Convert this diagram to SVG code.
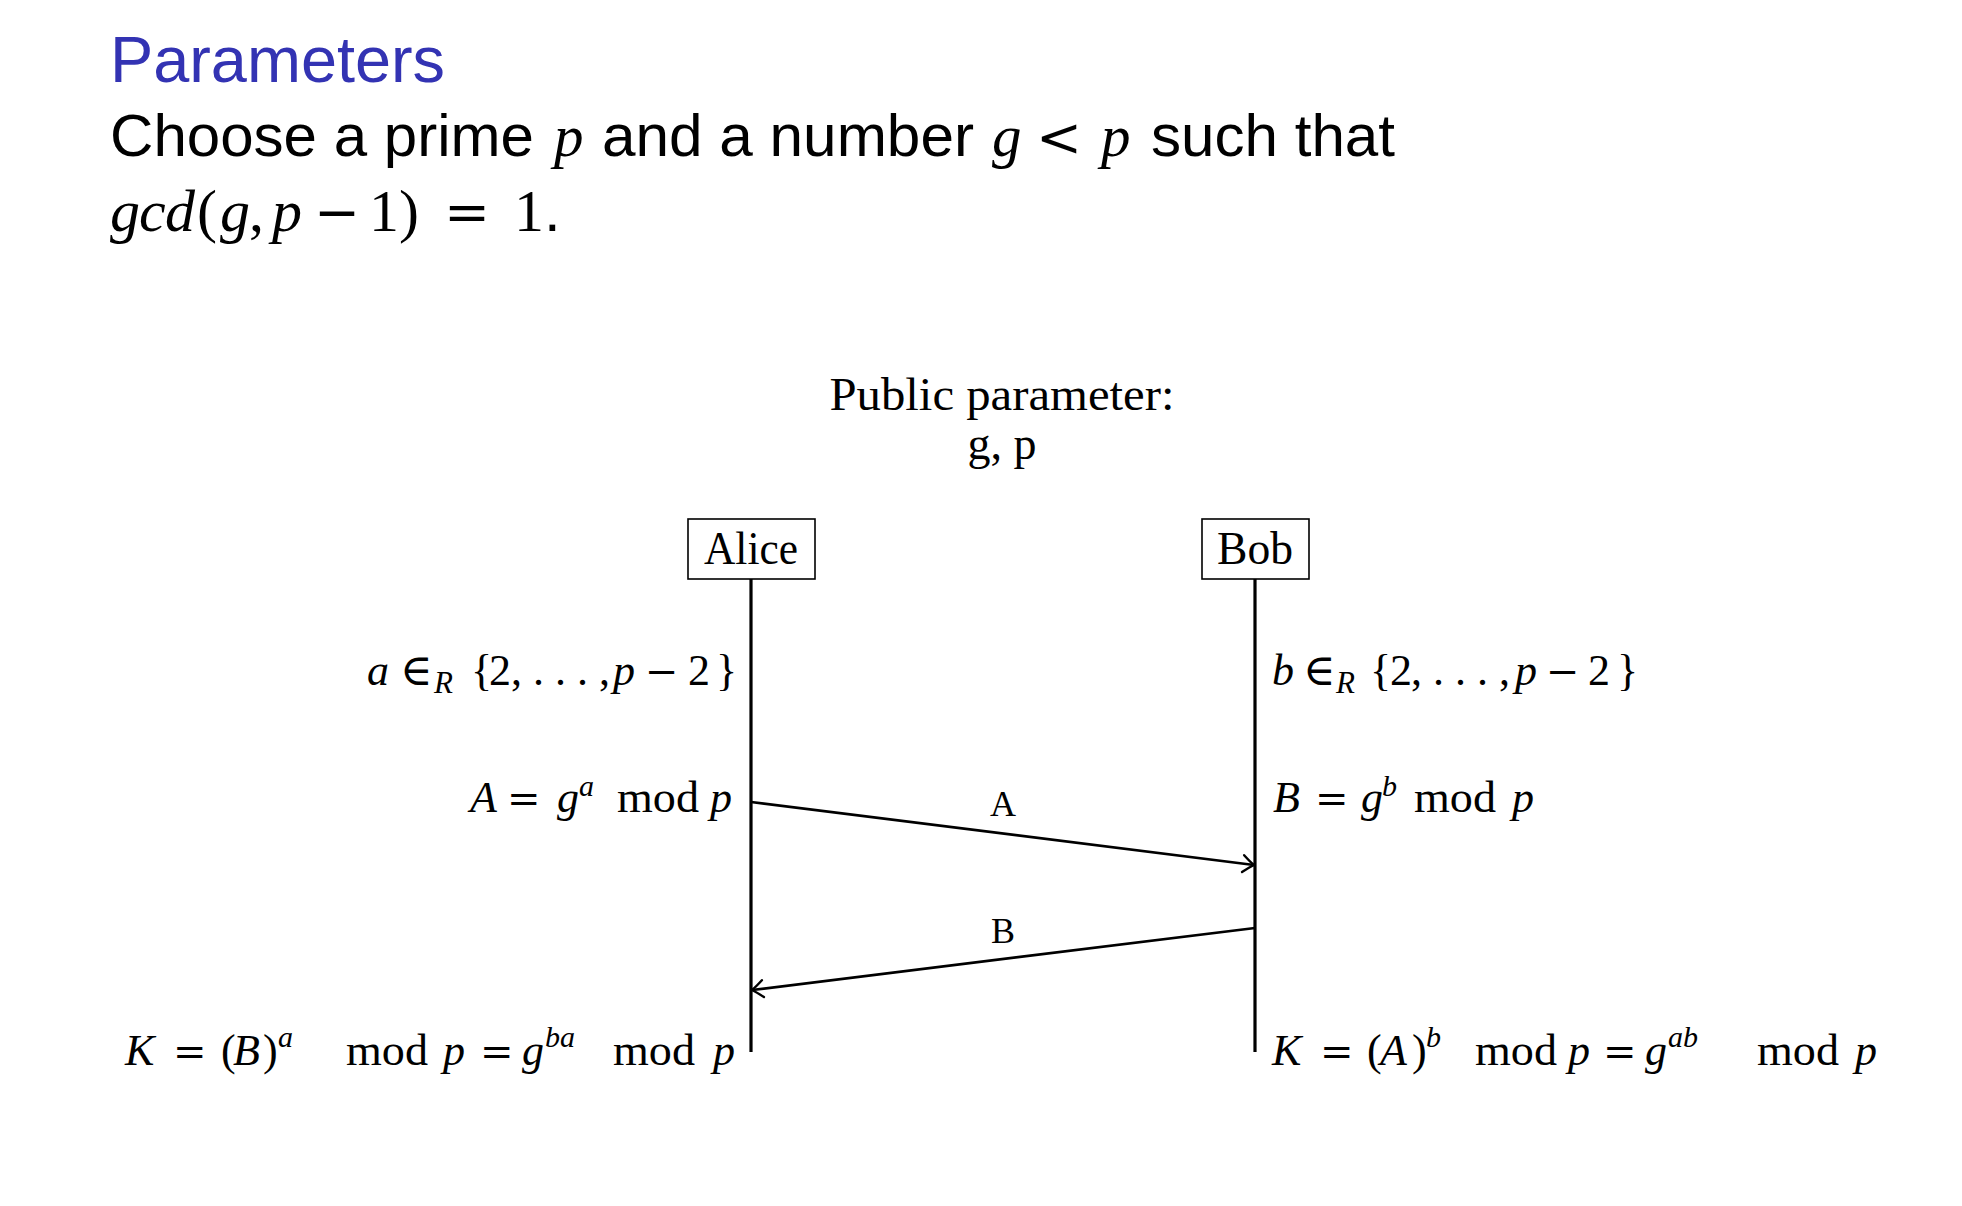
<svg xmlns="http://www.w3.org/2000/svg" width="1962" height="1206" viewBox="0 0 1962 1206">
<style>
.sans{font-family:"Liberation Sans","Helvetica",Arial,sans-serif;fill:#000}
.title{font-family:"Liberation Sans","Helvetica",Arial,sans-serif;fill:#3333B3;font-size:65px}
.rm{font-family:"Liberation Serif","DejaVu Serif",serif;fill:#000}
.it{font-style:italic}
.op{font-family:"DejaVu Serif",serif;font-style:normal;font-size:40px}
.opL{font-family:"DejaVu Serif",serif;font-style:normal;font-size:55px}
.m{font-size:44px}
.sup{font-size:30px;font-style:italic}
.sub{font-size:31px;font-style:italic}
.box{fill:#fff;stroke:#000;stroke-width:1.6}
.life{stroke:#000;stroke-width:3.2;fill:none}
.msg{stroke:#000;stroke-width:2.7;fill:none}
</style>
<defs>
<marker id="to" viewBox="-14 -10 16 20" markerWidth="16" markerHeight="20" refX="0" refY="0" orient="auto" markerUnits="userSpaceOnUse">
<path d="M -11,-8.5 Q -4,-2.5 0,0 Q -4,2.5 -11,8.5" fill="none" stroke="#000" stroke-width="2.4" stroke-linecap="round"/>
</marker>
</defs>
<rect width="1962" height="1206" fill="#fff"/>

<g id="heading">
<text class="title" x="110" y="82" textLength="335" lengthAdjust="spacingAndGlyphs">Parameters</text>
<text y="156" font-size="59">
<tspan class="sans" x="110" textLength="424" lengthAdjust="spacingAndGlyphs">Choose a prime</tspan><tspan class="rm it" x="554">p</tspan><tspan class="sans" x="602" textLength="372" lengthAdjust="spacingAndGlyphs">and a number</tspan><tspan class="rm it" x="992">g</tspan><tspan class="opL" x="1036">&lt;</tspan><tspan class="rm it" x="1101">p</tspan><tspan class="sans" x="1151" textLength="244" lengthAdjust="spacingAndGlyphs">such that</tspan>
</text>
<text class="rm" y="231" font-size="60">
<tspan class="it" x="110">g</tspan><tspan class="it" x="139">c</tspan><tspan class="it" x="165">d</tspan><tspan x="197">(</tspan><tspan class="it" x="220">g</tspan><tspan x="249">,</tspan><tspan class="it" x="272">p</tspan><tspan class="opL" x="314">−</tspan><tspan x="369">1</tspan><tspan x="399">)</tspan><tspan class="opL" x="444">=</tspan><tspan x="514">1</tspan><tspan class="sans" x="544">.</tspan>
</text>
</g>

<g id="public-parameter">
<text class="rm" x="1002" y="410" font-size="46" text-anchor="middle" textLength="345" lengthAdjust="spacingAndGlyphs">Public parameter:</text>
<text class="rm" x="1002" y="459" font-size="46" text-anchor="middle">g, p</text>
</g>

<g id="alice">
<rect class="box" x="688" y="519" width="127" height="60"/>
<text class="rm" x="751" y="564" font-size="46" text-anchor="middle" textLength="94" lengthAdjust="spacingAndGlyphs">Alice</text>
<line class="life" x1="751" y1="579" x2="751" y2="1052"/>
</g>

<g id="bob">
<rect class="box" x="1202" y="519" width="107" height="60"/>
<text class="rm" x="1255" y="564" font-size="46" text-anchor="middle" textLength="76" lengthAdjust="spacingAndGlyphs">Bob</text>
<line class="life" x1="1255" y1="579" x2="1255" y2="1052"/>
</g>

<g id="alice-steps" class="rm m">
<text y="685"><tspan class="it" x="367">a</tspan><tspan x="400">∈</tspan><tspan class="sub" x="434" dy="8">R</tspan><tspan x="471" dy="-8">{</tspan><tspan x="489">2</tspan><tspan x="511">, . . . ,</tspan><tspan class="it" x="613">p</tspan><tspan class="op" x="645">−</tspan><tspan x="688">2</tspan><tspan x="716">}</tspan></text>
<text y="812"><tspan class="it" x="470">A</tspan><tspan class="op" x="507">=</tspan><tspan class="it" x="557">g</tspan><tspan class="sup" x="579" dy="-16">a</tspan><tspan x="617" dy="16" textLength="82" lengthAdjust="spacingAndGlyphs">mod</tspan><tspan class="it" x="710">p</tspan></text>
<text y="1065"><tspan class="it" x="125">K</tspan><tspan class="op" x="173">=</tspan><tspan x="221">(</tspan><tspan class="it" x="233">B</tspan><tspan x="263">)</tspan><tspan class="sup" x="278" dy="-18">a</tspan><tspan x="346" dy="18" textLength="82" lengthAdjust="spacingAndGlyphs">mod</tspan><tspan class="it" x="443">p</tspan><tspan class="op" x="480">=</tspan><tspan class="it" x="522">g</tspan><tspan class="sup" x="545" dy="-18">ba</tspan><tspan x="613" dy="18" textLength="82" lengthAdjust="spacingAndGlyphs">mod</tspan><tspan class="it" x="713">p</tspan></text>
</g>

<g id="bob-steps" class="rm m">
<text y="685"><tspan class="it" x="1272">b</tspan><tspan x="1303">∈</tspan><tspan class="sub" x="1336" dy="8">R</tspan><tspan x="1370" dy="-8">{</tspan><tspan x="1390">2</tspan><tspan x="1411">, . . . ,</tspan><tspan class="it" x="1515">p</tspan><tspan class="op" x="1546">−</tspan><tspan x="1588">2</tspan><tspan x="1617">}</tspan></text>
<text y="812"><tspan class="it" x="1273">B</tspan><tspan class="op" x="1315">=</tspan><tspan class="it" x="1361">g</tspan><tspan class="sup" x="1382" dy="-16">b</tspan><tspan x="1414" dy="16" textLength="82" lengthAdjust="spacingAndGlyphs">mod</tspan><tspan class="it" x="1512">p</tspan></text>
<text y="1065"><tspan class="it" x="1272">K</tspan><tspan class="op" x="1320">=</tspan><tspan x="1367">(</tspan><tspan class="it" x="1380">A</tspan><tspan x="1412">)</tspan><tspan class="sup" x="1426" dy="-18">b</tspan><tspan x="1475" dy="18" textLength="82" lengthAdjust="spacingAndGlyphs">mod</tspan><tspan class="it" x="1568">p</tspan><tspan class="op" x="1603">=</tspan><tspan class="it" x="1645">g</tspan><tspan class="sup" x="1668" dy="-18">ab</tspan><tspan x="1757" dy="18" textLength="82" lengthAdjust="spacingAndGlyphs">mod</tspan><tspan class="it" x="1855">p</tspan></text>
</g>

<g id="connectors">
<line class="msg" x1="751" y1="802" x2="1254" y2="865" marker-end="url(#to)"/>
<line class="msg" x1="1255" y1="928" x2="752" y2="990" marker-end="url(#to)"/>
<text class="rm" x="1003" y="816" font-size="36" text-anchor="middle">A</text>
<text class="rm" x="1003" y="943" font-size="36" text-anchor="middle">B</text>
</g>
</svg>
